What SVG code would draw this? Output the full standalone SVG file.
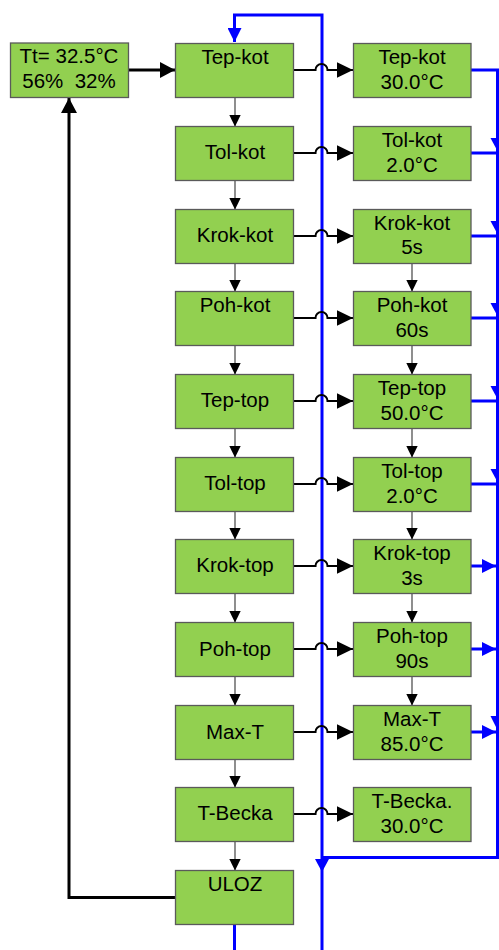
<svg xmlns="http://www.w3.org/2000/svg" width="499" height="950" viewBox="0 0 499 950">
<style>
.box{fill:#92D050;stroke:#5a5a5a;stroke-width:1.3}
.t{font-family:"Liberation Sans",Arial,sans-serif;font-size:20.5px;fill:#000;text-anchor:middle;white-space:pre}
.thin{fill:none;stroke:#444;stroke-width:1.2}
.hop{fill:none;stroke:#000;stroke-width:2}
.thick{fill:none;stroke:#000;stroke-width:3}
.blue{fill:none;stroke:#0000FF;stroke-width:3}
.bh{fill:#0000FF}
.kh{fill:#000}
</style>
<defs>
<marker id="aSmall" markerUnits="userSpaceOnUse" markerWidth="12" markerHeight="12" viewBox="0 0 12 12" refX="11.5" refY="6" orient="auto"><path d="M0,0.3 L11.5,6 L0,11.7 z" fill="#000"/></marker>
<marker id="aHop" markerUnits="userSpaceOnUse" markerWidth="16" markerHeight="16" viewBox="0 0 16 16" refX="16" refY="8" orient="auto"><path d="M0,0.3 L16,8 L0,15.7 z" fill="#000"/></marker>
<marker id="aThick" markerUnits="userSpaceOnUse" markerWidth="15" markerHeight="16" viewBox="0 0 15 16" refX="15" refY="8" orient="auto"><path d="M0,0 L15,8 L0,16 z" fill="#000"/></marker>
<marker id="aBlue" markerUnits="userSpaceOnUse" markerWidth="14" markerHeight="14" viewBox="0 0 14 14" refX="14" refY="7" orient="auto"><path d="M0,0 L14,7 L0,14 z" fill="#0000FF"/></marker>
</defs>

<g id="connectors">
<path class="blue" d="M322,950 V15 H234.5 V42" marker-end="url(#aBlue)"/>
<path class="blue" d="M234.5,924.5 V950"/>
<path class="blue" d="M471,70 H497.5 V857.5 H322"/>
<polygon class="bh" points="315,859 329,859 322,872"/>
<path class="blue" d="M471,153 H497.5"/>
<polygon class="bh" points="490.5,138 504.5,138 497.5,151"/>
<path class="blue" d="M471,236 H497.5"/>
<polygon class="bh" points="490.5,221 504.5,221 497.5,234"/>
<path class="blue" d="M471,318 H497.5"/>
<polygon class="bh" points="490.5,303 504.5,303 497.5,316"/>
<path class="blue" d="M471,401 H497.5"/>
<polygon class="bh" points="490.5,386 504.5,386 497.5,399"/>
<path class="blue" d="M471,484 H497.5"/>
<polygon class="bh" points="490.5,469 504.5,469 497.5,482"/>
<polygon class="bh" points="490.5,716 504.5,716 497.5,730"/>
<path class="blue" d="M471,566 H496" marker-end="url(#aBlue)"/>
<path class="blue" d="M471,649 H496" marker-end="url(#aBlue)"/>
<path class="blue" d="M471,732 H496" marker-end="url(#aBlue)"/>

<path class="thick" d="M128.5,70 H175" marker-end="url(#aThick)"/>
<path class="thick" d="M175.5,897.5 H69 V98" marker-end="url(#aThick)"/>

<path class="hop" d="M293.5,70 H315.5 A6,6 0 0 1 327.5,70 H353" marker-end="url(#aHop)"/>
<path class="hop" d="M293.5,153 H315.5 A6,6 0 0 1 327.5,153 H353" marker-end="url(#aHop)"/>
<path class="hop" d="M293.5,236 H315.5 A6,6 0 0 1 327.5,236 H353" marker-end="url(#aHop)"/>
<path class="hop" d="M293.5,318 H315.5 A6,6 0 0 1 327.5,318 H353" marker-end="url(#aHop)"/>
<path class="hop" d="M293.5,401 H315.5 A6,6 0 0 1 327.5,401 H353" marker-end="url(#aHop)"/>
<path class="hop" d="M293.5,484 H315.5 A6,6 0 0 1 327.5,484 H353" marker-end="url(#aHop)"/>
<path class="hop" d="M293.5,566 H315.5 A6,6 0 0 1 327.5,566 H353" marker-end="url(#aHop)"/>
<path class="hop" d="M293.5,649 H315.5 A6,6 0 0 1 327.5,649 H353" marker-end="url(#aHop)"/>
<path class="hop" d="M293.5,732 H315.5 A6,6 0 0 1 327.5,732 H353" marker-end="url(#aHop)"/>
<path class="hop" d="M293.5,814 H315.5 A6,6 0 0 1 327.5,814 H353" marker-end="url(#aHop)"/>

<path class="thin" d="M235,97.5 V126.5" marker-end="url(#aSmall)"/>
<path class="thin" d="M235,180.5 V209.5" marker-end="url(#aSmall)"/>
<path class="thin" d="M235,263.5 V291.5" marker-end="url(#aSmall)"/>
<path class="thin" d="M235,345.5 V374.5" marker-end="url(#aSmall)"/>
<path class="thin" d="M235,428.5 V457.5" marker-end="url(#aSmall)"/>
<path class="thin" d="M235,511.5 V539.5" marker-end="url(#aSmall)"/>
<path class="thin" d="M235,593.5 V622.5" marker-end="url(#aSmall)"/>
<path class="thin" d="M235,676.5 V705.5" marker-end="url(#aSmall)"/>
<path class="thin" d="M235,759.5 V787.5" marker-end="url(#aSmall)"/>
<path class="thin" d="M235,841.5 V870.5" marker-end="url(#aSmall)"/>
<path class="thin" d="M412,263.5 V291.5" marker-end="url(#aSmall)"/>
<path class="thin" d="M412,345.5 V374.5" marker-end="url(#aSmall)"/>
<path class="thin" d="M412,428.5 V457.5" marker-end="url(#aSmall)"/>
<path class="thin" d="M412,511.5 V539.5" marker-end="url(#aSmall)"/>
<path class="thin" d="M412,593.5 V622.5" marker-end="url(#aSmall)"/>
<path class="thin" d="M412,676.5 V705.5" marker-end="url(#aSmall)"/>
</g>

<g id="status"><rect class="box" x="10.5" y="43" width="118" height="54.5"/><text class="t" x="69" y="63.3">Tt= 32.5°C</text><text class="t" x="69" y="88">56%  32%</text></g>

<g id="tep-kot"><rect class="box" x="175.5" y="43.5" width="118" height="54"/><text class="t" x="235" y="63.5">Tep-kot</text></g>
<g id="tol-kot"><rect class="box" x="175.5" y="126.5" width="118" height="54"/><text class="t" x="235" y="159">Tol-kot</text></g>
<g id="krok-kot"><rect class="box" x="175.5" y="209.5" width="118" height="54"/><text class="t" x="235" y="242">Krok-kot</text></g>
<g id="poh-kot"><rect class="box" x="175.5" y="291.5" width="118" height="54"/><text class="t" x="235" y="311.5">Poh-kot</text></g>
<g id="tep-top"><rect class="box" x="175.5" y="374.5" width="118" height="54"/><text class="t" x="235" y="407">Tep-top</text></g>
<g id="tol-top"><rect class="box" x="175.5" y="457.5" width="118" height="54"/><text class="t" x="235" y="490">Tol-top</text></g>
<g id="krok-top"><rect class="box" x="175.5" y="539.5" width="118" height="54"/><text class="t" x="235" y="572">Krok-top</text></g>
<g id="poh-top"><rect class="box" x="175.5" y="622.5" width="118" height="54"/><text class="t" x="235" y="655.5">Poh-top</text></g>
<g id="max-t"><rect class="box" x="175.5" y="705.5" width="118" height="54"/><text class="t" x="235" y="738.5">Max-T</text></g>
<g id="t-becka"><rect class="box" x="175.5" y="787.5" width="118" height="54"/><text class="t" x="235" y="820">T-Becka</text></g>
<g id="uloz"><rect class="box" x="175.5" y="870.5" width="118" height="54"/><text class="t" x="235" y="890.5">ULOZ</text></g>

<g id="v-tep-kot"><rect class="box" x="353.5" y="43.5" width="117.5" height="54"/><text class="t" x="412" y="64">Tep-kot</text><text class="t" x="412" y="88.5">30.0°C</text></g>
<g id="v-tol-kot"><rect class="box" x="353.5" y="126.5" width="117.5" height="54"/><text class="t" x="412" y="147">Tol-kot</text><text class="t" x="412" y="171.5">2.0°C</text></g>
<g id="v-krok-kot"><rect class="box" x="353.5" y="209.5" width="117.5" height="54"/><text class="t" x="412" y="230">Krok-kot</text><text class="t" x="412" y="254">5s</text></g>
<g id="v-poh-kot"><rect class="box" x="353.5" y="291.5" width="117.5" height="54"/><text class="t" x="412" y="312">Poh-kot</text><text class="t" x="412" y="336.5">60s</text></g>
<g id="v-tep-top"><rect class="box" x="353.5" y="374.5" width="117.5" height="54"/><text class="t" x="412" y="395">Tep-top</text><text class="t" x="412" y="419.5">50.0°C</text></g>
<g id="v-tol-top"><rect class="box" x="353.5" y="457.5" width="117.5" height="54"/><text class="t" x="412" y="478">Tol-top</text><text class="t" x="412" y="502.5">2.0°C</text></g>
<g id="v-krok-top"><rect class="box" x="353.5" y="539.5" width="117.5" height="54"/><text class="t" x="412" y="560">Krok-top</text><text class="t" x="412" y="584.5">3s</text></g>
<g id="v-poh-top"><rect class="box" x="353.5" y="622.5" width="117.5" height="54"/><text class="t" x="412" y="643">Poh-top</text><text class="t" x="412" y="667.5">90s</text></g>
<g id="v-max-t"><rect class="box" x="353.5" y="705.5" width="117.5" height="54"/><text class="t" x="412" y="726">Max-T</text><text class="t" x="412" y="750.5">85.0°C</text></g>
<g id="v-t-becka"><rect class="box" x="353.5" y="787.5" width="117.5" height="54"/><text class="t" x="412" y="808">T-Becka.</text><text class="t" x="412" y="832.5">30.0°C</text></g>
</svg>
